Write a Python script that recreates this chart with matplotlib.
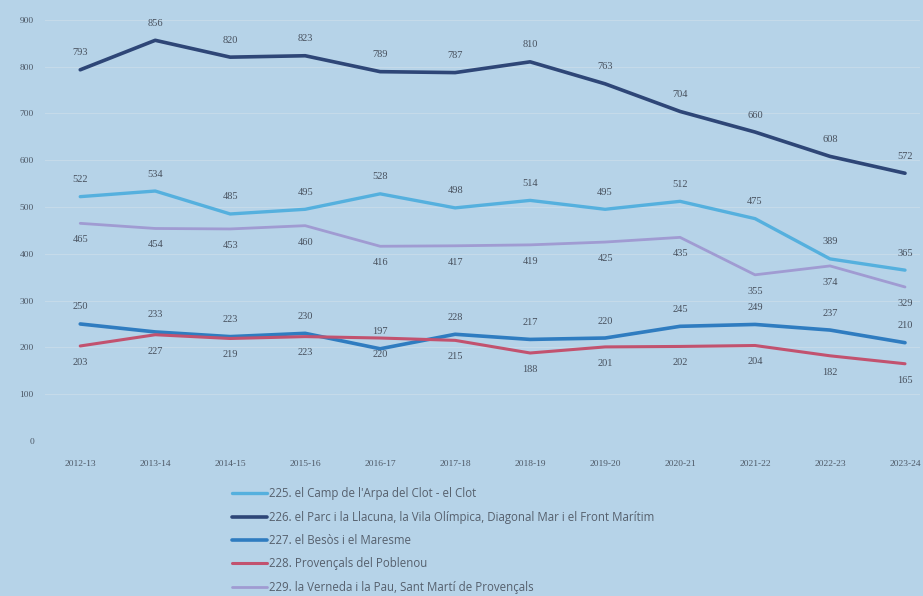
import matplotlib.pyplot as plt

years = ['2012-13', '2013-14', '2014-15', '2015-16', '2016-17', '2017-18',
         '2018-19', '2019-20', '2020-21', '2021-22', '2022-23', '2023-24']

s225 = [522, 534, 485, 495, 528, 498, 514, 495, 512, 475, 389, 365]
s226 = [793, 856, 820, 823, 789, 787, 810, 763, 704, 660, 608, 572]
s227 = [250, 233, 223, 230, 197, 228, 217, 220, 245, 249, 237, 210]
s228 = [203, 227, 219, 223, 220, 215, 188, 201, 202, 204, 182, 165]
s229 = [465, 454, 453, 460, 416, 417, 419, 425, 435, 355, 374, 329]

names = ["225. el Camp de l'Arpa del Clot - el Clot",
         "226. el Parc i la Llacuna, la Vila Olímpica, Diagonal Mar i el Front Marítim",
         "227. el Besòs i el Maresme",
         "228. Provençals del Poblenou",
         "229. la Verneda i la Pau, Sant Martí de Provençals"]

bg = '#b6d3e8'
fig = plt.figure(figsize=(9.23, 5.96), dpi=100, facecolor=bg)
ax = fig.add_axes([45/923, 1 - 441/596, 875/923, 433/596], facecolor=bg)

x = list(range(len(years)))
series = [
    (s225, '#55b0de', 2.4, 9),
    (s226, '#2e4677', 2.6, 9),
    (s227, '#2f7cc0', 2.6, 9),
    (s228, '#c2526f', 2.2, -15),
    (s229, '#a09bd2', 2.0, -15),
]
for (vals, col, lw, off), name in zip(series, names):
    ax.plot(x, vals, color=col, lw=lw, label=name, solid_capstyle='round')
    for xi, v in zip(x, vals):
        ax.annotate(str(v), (xi, v), xytext=(0, off), textcoords='offset points',
                    ha='center', va='bottom', fontsize=7.5, color='#47505d',
                    family='Liberation Serif')

ax.set_xlim(-0.47, 11.2)
ax.set_ylim(0, 925)
ax.set_yticks(range(0, 1000, 100))
ax.set_xticks(x)
ax.set_xticklabels(years)
ax.tick_params(length=0, labelsize=6.8, labelcolor='#4d5866', pad=14)
ax.tick_params(axis='y', pad=8)
for lab in ax.get_xticklabels() + ax.get_yticklabels():
    lab.set_family('Liberation Serif')
ax.grid(axis='y', color='#c6dbea', lw=0.7)
for sp in ax.spines.values():
    sp.set_visible(False)

fig.legend(loc='upper left', bbox_to_anchor=(222/923, 1 - 477/596), frameon=False,
           labelspacing=0.9, handlelength=3.0, handletextpad=0.15,
           labelcolor='#56606d', prop={'family': 'Open Sans', 'size': 8.3})

fig.savefig('out.png', dpi=100, facecolor=bg)
